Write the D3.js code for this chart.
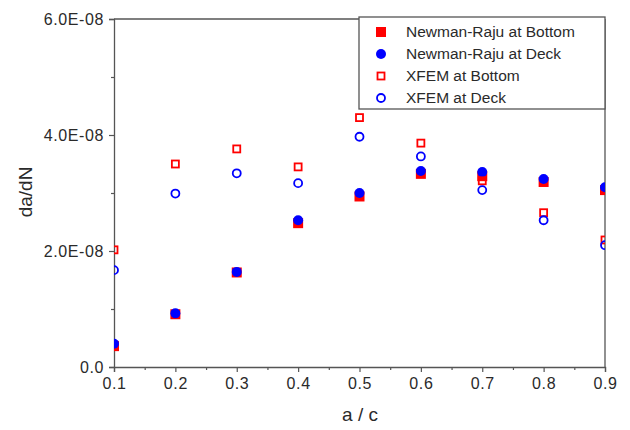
<!DOCTYPE html>
<html>
<head>
<meta charset="utf-8">
<script src="https://cdn.jsdelivr.net/npm/d3@7"></script>
<style>
  body { margin: 0; background: #fff; }
  svg text { font-family: "Liberation Sans", Arial, sans-serif; }
</style>
</head>
<body>
<div id="chart"></div>
<script>
// a/c ratios
const ratios = [0.1, 0.2, 0.3, 0.4, 0.5, 0.6, 0.7, 0.8, 0.9];
// da/dN values
const nrBottom = [0.36e-8, 0.91e-8, 1.63e-8, 2.48e-8, 2.94e-8, 3.33e-8, 3.29e-8, 3.19e-8, 3.05e-8];
const nrDeck = [0.40e-8, 0.925e-8, 1.64e-8, 2.53e-8, 3.00e-8, 3.38e-8, 3.36e-8, 3.24e-8, 3.10e-8];
const xfemBottom = [2.02e-8, 3.50e-8, 3.76e-8, 3.45e-8, 4.30e-8, 3.86e-8, 3.21e-8, 2.66e-8, 2.19e-8];
const xfemDeck = [1.67e-8, 2.99e-8, 3.34e-8, 3.17e-8, 3.97e-8, 3.63e-8, 3.05e-8, 2.53e-8, 2.10e-8];

const xTicks = [0.1, 0.2, 0.3, 0.4, 0.5, 0.6, 0.7, 0.8, 0.9];
const yTicks = [0, 2e-8, 4e-8, 6e-8];
const yTickLabels = ['0.0', '2.0E-08', '4.0E-08', '6.0E-08'];
const legendNames = ['Newman-Raju at Bottom', 'Newman-Raju at Deck', 'XFEM at Bottom', 'XFEM at Deck'];

const width = 630, height = 430;
const pLeft = 114, pRight = 605, pTop = 19, pBottom = 367;
const axisColor = '#555';
const textColor = '#2a2a2a';

const x = d3.scaleLinear().domain([0.1, 0.9]).range([pLeft, pRight]);
const y = d3.scaleLinear().domain([0, 6e-8]).range([pBottom, pTop]);

const svg = d3.select('#chart').append('svg')
  .attr('width', width)
  .attr('height', height);

svg.append('defs').append('clipPath').attr('id', 'plot')
  .append('rect')
  .attr('x', pLeft).attr('y', pTop)
  .attr('width', pRight - pLeft).attr('height', pBottom - pTop);

// minor ticks
const xMinor = [0.15, 0.25, 0.35, 0.45, 0.55, 0.65, 0.75, 0.85];
const yMinor = [1e-8, 3e-8, 5e-8];

const xAxis = d3.axisBottom(x).tickValues(xTicks).tickFormat(d3.format('.1f')).tickSize(5).tickPadding(6);
const yAxis = d3.axisLeft(y).tickValues(yTicks).tickFormat((d, i) => yTickLabels[i]).tickSize(5).tickPadding(5);

svg.append('g').attr('transform', 'translate(0,' + pBottom + ')').call(xAxis);
svg.append('g').attr('transform', 'translate(0,' + pBottom + ')')
  .call(d3.axisBottom(x).tickValues(xMinor).tickFormat('').tickSize(3))
  .select('.domain').remove();

svg.append('g').attr('transform', 'translate(' + pLeft + ',0)').call(yAxis);
svg.append('g').attr('transform', 'translate(' + pLeft + ',0)')
  .call(d3.axisLeft(y).tickValues(yMinor).tickFormat('').tickSize(3))
  .select('.domain').remove();

svg.selectAll('.domain').attr('stroke', axisColor).attr('stroke-width', 1.3);
svg.selectAll('.tick line').attr('stroke', axisColor).attr('stroke-width', 1.2);
svg.selectAll('.tick text').attr('fill', textColor)
  .style('font-size', '16px').style('letter-spacing', '0.6px');

// top and right frame
svg.append('line').attr('x1', pLeft).attr('x2', pRight).attr('y1', pTop).attr('y2', pTop)
  .attr('stroke', axisColor).attr('stroke-width', 1.3);
svg.append('line').attr('x1', pRight).attr('x2', pRight).attr('y1', pTop).attr('y2', pBottom)
  .attr('stroke', axisColor).attr('stroke-width', 1.3);

// axis titles
svg.append('text')
  .attr('x', 360).attr('y', 421)
  .attr('text-anchor', 'middle')
  .attr('fill', textColor)
  .style('font-size', '19px')
  .text('a / c');
svg.append('text')
  .attr('transform', 'translate(32,192) rotate(-90)')
  .attr('text-anchor', 'middle')
  .attr('fill', textColor)
  .style('font-size', '19px')
  .text('da/dN');

const plot = svg.append('g').attr('clip-path', 'url(#plot)');

function drawMarker(g, kind, cx, cy) {
  if (kind === 0) {
    g.append('rect').attr('x', cx - 5).attr('y', cy - 5).attr('width', 10).attr('height', 10)
      .attr('fill', '#ff0000');
  } else if (kind === 1) {
    g.append('circle').attr('cx', cx).attr('cy', cy).attr('r', 5).attr('fill', '#0000ff');
  } else if (kind === 2) {
    g.append('rect').attr('x', cx - 3.5).attr('y', cy - 3.5).attr('width', 7).attr('height', 7)
      .attr('fill', 'none').attr('stroke', '#ff0000').attr('stroke-width', 1.8);
  } else {
    g.append('circle').attr('cx', cx).attr('cy', cy).attr('r', 4)
      .attr('fill', 'none').attr('stroke', '#0000ff').attr('stroke-width', 1.8);
  }
}

const allSeries = [nrBottom, nrDeck, xfemBottom, xfemDeck];
allSeries.forEach((vals, k) => {
  vals.forEach((v, i) => drawMarker(plot, k, x(ratios[i]), y(v)));
});

// legend
const legend = svg.append('g');
legend.append('rect')
  .attr('x', 359).attr('y', 17).attr('width', pRight - 359).attr('height', 92)
  .attr('fill', '#fff').attr('stroke', axisColor).attr('stroke-width', 1.3);
legendNames.forEach((name, k) => {
  const ly = 32 + k * 22;
  drawMarker(legend, k, 381, ly);
  legend.append('text')
    .attr('x', 406).attr('y', ly + 5)
    .attr('fill', textColor)
    .style('font-size', '15.5px')
    .text(name);
});
</script>
</body>
</html>
